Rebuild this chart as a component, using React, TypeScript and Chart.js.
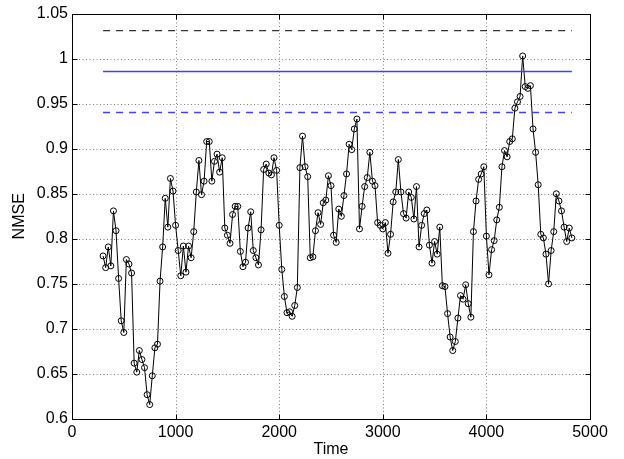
import React, { useEffect, useRef } from 'react';
import { Chart, registerables } from 'chart.js';

Chart.register(...registerables);

// ---- data ----
const T_START = 300;
const T_STEP = 25;
const nmse = [
  0.781, 0.768, 0.791, 0.770, 0.831, 0.809, 0.756, 0.709, 0.696, 0.777,
  0.772, 0.762, 0.662, 0.652, 0.676, 0.666, 0.657, 0.627, 0.616, 0.648,
  0.679, 0.683, 0.753, 0.791, 0.845, 0.813, 0.867, 0.853, 0.815, 0.787,
  0.759, 0.792, 0.763, 0.792, 0.779, 0.808, 0.852, 0.887, 0.849, 0.864,
  0.908, 0.908, 0.864, 0.886, 0.894, 0.874, 0.890, 0.812, 0.804, 0.795,
  0.827, 0.836, 0.836, 0.786, 0.769, 0.774, 0.812, 0.830, 0.787, 0.779,
  0.771, 0.810, 0.877, 0.883, 0.873, 0.871, 0.890, 0.876, 0.815, 0.766,
  0.736, 0.718, 0.719, 0.714, 0.726, 0.746, 0.879, 0.914, 0.880, 0.869,
  0.779, 0.780, 0.809, 0.829, 0.816, 0.840, 0.843, 0.870, 0.859, 0.804,
  0.796, 0.833, 0.825, 0.848, 0.872, 0.905, 0.899, 0.922, 0.933, 0.811,
  0.836, 0.858, 0.868, 0.896, 0.864, 0.859, 0.818, 0.815, 0.811, 0.818,
  0.784, 0.805, 0.841, 0.852, 0.888, 0.852, 0.828, 0.823, 0.852, 0.846,
  0.822, 0.858, 0.791, 0.815, 0.828, 0.832, 0.793, 0.773, 0.797, 0.783,
  0.813, 0.748, 0.747, 0.717, 0.691, 0.676, 0.686, 0.712, 0.737, 0.733,
  0.749, 0.728, 0.713, 0.808, 0.842, 0.866, 0.872, 0.880, 0.803, 0.760,
  0.788, 0.798, 0.821, 0.835, 0.880, 0.898, 0.891, 0.908, 0.911, 0.945,
  0.952, 0.958, 1.003, 0.969, 0.967, 0.970, 0.922, 0.896, 0.860, 0.805,
  0.801, 0.783, 0.750, 0.787, 0.808, 0.850, 0.842, 0.831, 0.813, 0.797,
  0.812, 0.801,
];
const times = nmse.map((_, i) => T_START + i * T_STEP);

const upperLevel = 1.031;   // black dashed
const meanLevel = 0.9857;   // blue solid
const lowerLevel = 0.9402;  // blue dashed

const X_MIN = 0;
const X_MAX = 5000;
const X_STEP = 1000;
const Y_MIN = 0.6;
const Y_MAX = 1.05;
const Y_STEP = 0.05;

const FONT = '"Liberation Sans", Arial, Helvetica, sans-serif';
const BLUE = 'rgb(64,64,255)';

const matlabFrame = {
  id: 'matlabFrame',
  beforeDatasetsDraw(chart: any) {
    const { ctx, chartArea: a, scales } = chart;
    const x = scales.x;
    const y = scales.y;
    ctx.save();
    ctx.strokeStyle = 'rgba(0,0,0,0.5)';
    ctx.lineWidth = 1;
    ctx.setLineDash([1, 2.5]);
    x.ticks.forEach((t: any) => {
      if (t.value <= X_MIN || t.value >= X_MAX) return;
      const px = Math.round(x.getPixelForValue(t.value)) + 0.5;
      ctx.beginPath();
      ctx.moveTo(px, a.bottom);
      ctx.lineTo(px, a.top);
      ctx.stroke();
    });
    y.ticks.forEach((t: any) => {
      if (t.value <= Y_MIN + 1e-9 || t.value >= Y_MAX - 1e-9) return;
      const py = Math.round(y.getPixelForValue(t.value)) + 0.5;
      ctx.beginPath();
      ctx.moveTo(a.left, py);
      ctx.lineTo(a.right, py);
      ctx.stroke();
    });
    ctx.restore();
  },
  afterDraw(chart: any) {
    const { ctx, chartArea: a, scales } = chart;
    const x = scales.x;
    const y = scales.y;
    const L = Math.round(a.left) + 0.5;
    const R = Math.round(a.right) + 0.5;
    const T = Math.round(a.top) + 0.5;
    const B = Math.round(a.bottom) + 0.5;
    const tl = 5;
    ctx.save();
    ctx.setLineDash([]);
    ctx.strokeStyle = '#000';
    ctx.lineWidth = 1;
    ctx.strokeRect(L, T, R - L, B - T);
    ctx.beginPath();
    x.ticks.forEach((t: any) => {
      const px = Math.round(x.getPixelForValue(t.value)) + 0.5;
      ctx.moveTo(px, B);
      ctx.lineTo(px, B - tl);
      ctx.moveTo(px, T);
      ctx.lineTo(px, T + tl);
    });
    y.ticks.forEach((t: any) => {
      const py = Math.round(y.getPixelForValue(t.value)) + 0.5;
      ctx.moveTo(L, py);
      ctx.lineTo(L + tl, py);
      ctx.moveTo(R, py);
      ctx.lineTo(R - tl, py);
    });
    ctx.stroke();
    ctx.restore();
  },
};

export default function App() {
  const canvasRef = useRef<HTMLCanvasElement | null>(null);

  useEffect(() => {
    const canvas = canvasRef.current;
    if (!canvas) return;
    const tStart = times[0];
    const tEnd = times[times.length - 1];
    const levelLine = (v: number) => [
      { x: tStart, y: v },
      { x: tEnd, y: v },
    ];
    const chart = new Chart(canvas, {
      type: 'scatter',
      data: {
        datasets: [
          {
            label: 'upper',
            data: levelLine(upperLevel),
            showLine: true,
            borderColor: '#000000',
            backgroundColor: '#000000',
            borderWidth: 1,
            borderDash: [7, 6],
            pointRadius: 0,
            fill: false,
          },
          {
            label: 'mean',
            data: levelLine(meanLevel),
            showLine: true,
            borderColor: BLUE,
            backgroundColor: BLUE,
            borderWidth: 1.4,
            pointRadius: 0,
            fill: false,
          },
          {
            label: 'lower',
            data: levelLine(lowerLevel),
            showLine: true,
            borderColor: BLUE,
            backgroundColor: BLUE,
            borderWidth: 1.4,
            borderDash: [7, 6],
            pointRadius: 0,
            fill: false,
          },
          {
            label: 'NMSE',
            data: times.map((t, i) => ({ x: t, y: nmse[i] })),
            showLine: true,
            borderColor: '#000000',
            borderWidth: 1,
            pointRadius: 3,
            pointBorderWidth: 1,
            pointBorderColor: '#000000',
            pointBackgroundColor: 'rgba(0,0,0,0)',
            pointStyle: 'circle',
            fill: false,
          },
        ],
      },
      options: {
        responsive: false,
        animation: false,
        devicePixelRatio: 1,
        layout: { padding: { left: 0, right: 34, top: 10, bottom: 0 } },
        plugins: {
          legend: { display: false },
          tooltip: { enabled: false },
        },
        scales: {
          x: {
            type: 'linear',
            min: X_MIN,
            max: X_MAX,
            grid: { display: false, drawTicks: false },
            border: { display: false },
            ticks: {
              stepSize: X_STEP,
              color: '#000',
              padding: 4,
              maxRotation: 0,
              font: { family: FONT, size: 16 },
              callback: (v: any) => String(v),
            },
            title: {
              display: true,
              text: 'Time',
              color: '#000',
              font: { family: FONT, size: 16 },
              padding: { top: 0, bottom: 0 },
            },
            afterFit: (s: any) => {
              s.height = 40;
            },
          },
          y: {
            type: 'linear',
            min: Y_MIN,
            max: Y_MAX,
            grid: { display: false, drawTicks: false },
            border: { display: false },
            ticks: {
              stepSize: Y_STEP,
              color: '#000',
              padding: 4,
              font: { family: FONT, size: 16 },
              callback: (v: any) => String(Number(Number(v).toFixed(2))),
            },
            title: {
              display: true,
              text: 'NMSE',
              color: '#000',
              font: { family: FONT, size: 16 },
              padding: { top: 10, bottom: 0 },
            },
            afterFit: (s: any) => {
              s.width = 72;
            },
          },
        },
      },
      plugins: [matlabFrame],
    });
    return () => chart.destroy();
  }, []);

  return (
    <div style={{ position: 'absolute', left: 0, top: 0, width: 624, height: 459, background: '#fff' }}>
      <canvas ref={canvasRef} width={624} height={459} style={{ display: 'block', width: 624, height: 459 }} />
    </div>
  );
}
